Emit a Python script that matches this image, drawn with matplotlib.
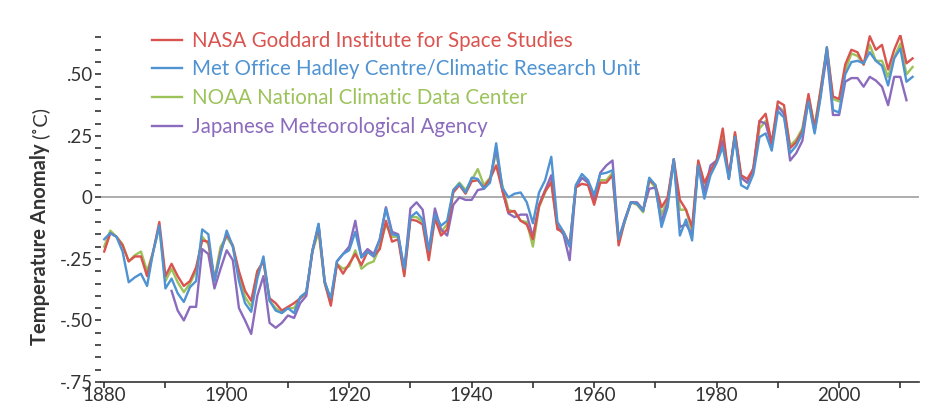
import matplotlib
matplotlib.use("Agg")
import matplotlib.pyplot as plt
from matplotlib.ticker import MultipleLocator, FixedLocator

plt.rcParams['font.family'] = ['Lato', 'DejaVu Sans']

years = list(range(1880, 2013))
jma_years = list(range(1891, 2012))

# NASA GISS
nasa = [-0.22, -0.145, -0.16, -0.195, -0.26, -0.24, -0.24, -0.32, -0.22, -0.10,
        -0.32, -0.27, -0.32, -0.36, -0.34, -0.285, -0.175, -0.18, -0.34, -0.22,
        -0.15, -0.195, -0.30, -0.38, -0.42, -0.30, -0.26, -0.41, -0.43, -0.46,
        -0.445, -0.43, -0.41, -0.385, -0.215, -0.12, -0.345, -0.44, -0.27, -0.31,
        -0.27, -0.23, -0.275, -0.22, -0.24, -0.21, -0.095, -0.18, -0.17, -0.32,
        -0.09, -0.095, -0.11, -0.255, -0.085, -0.155, -0.13, 0.02, 0.05, 0.015,
        0.065, 0.07, 0.04, 0.075, 0.13, 0.03, -0.06, -0.055, -0.095, -0.11,
        -0.17, -0.035, 0.025, 0.06, -0.13, -0.14, -0.19, 0.04, 0.055, 0.05,
        -0.03, 0.06, 0.06, 0.09, -0.195, -0.095, -0.02, -0.025, -0.055, 0.07,
        0.05, -0.04, 0.00, 0.155, -0.01, -0.05, -0.12, 0.15, 0.06, 0.11,
        0.15, 0.28, 0.075, 0.265, 0.09, 0.075, 0.115, 0.31, 0.34, 0.22,
        0.39, 0.375, 0.20, 0.225, 0.27, 0.42, 0.28, 0.44, 0.61, 0.41,
        0.40, 0.54, 0.60, 0.59, 0.54, 0.655, 0.60, 0.62, 0.52, 0.60,
        0.66, 0.545, 0.565]

# Met Office Hadley Centre / CRU
hadley = [-0.17, -0.145, -0.16, -0.22, -0.345, -0.325, -0.31, -0.36, -0.22, -0.115,
          -0.37, -0.33, -0.39, -0.425, -0.365, -0.34, -0.13, -0.15, -0.34, -0.23,
          -0.135, -0.20, -0.34, -0.43, -0.465, -0.33, -0.24, -0.42, -0.46, -0.47,
          -0.45, -0.47, -0.405, -0.385, -0.215, -0.107, -0.345, -0.41, -0.26, -0.23,
          -0.215, -0.14, -0.245, -0.22, -0.24, -0.17, -0.045, -0.15, -0.155, -0.29,
          -0.08, -0.06, -0.09, -0.215, -0.07, -0.115, -0.095, 0.03, 0.055, 0.02,
          0.08, 0.075, 0.035, 0.06, 0.22, 0.04, 0.00, 0.015, 0.02, -0.02,
          -0.105, 0.02, 0.07, 0.165, -0.10, -0.14, -0.20, 0.05, 0.095, 0.07,
          0.01, 0.095, 0.10, 0.11, -0.17, -0.095, -0.02, -0.025, -0.055, 0.08,
          0.05, -0.12, -0.04, 0.155, -0.155, -0.09, -0.175, 0.13, -0.005, 0.09,
          0.14, 0.205, 0.075, 0.245, 0.05, 0.035, 0.095, 0.245, 0.26, 0.19,
          0.35, 0.325, 0.18, 0.21, 0.26, 0.39, 0.26, 0.41, 0.61, 0.355,
          0.345, 0.50, 0.55, 0.555, 0.545, 0.59, 0.555, 0.535, 0.455, 0.565,
          0.605, 0.47, 0.49]

# NOAA NCDC
noaa = [-0.20, -0.135, -0.16, -0.19, -0.26, -0.235, -0.22, -0.30, -0.22, -0.12,
        -0.34, -0.29, -0.345, -0.385, -0.35, -0.30, -0.16, -0.19, -0.33, -0.20,
        -0.16, -0.20, -0.32, -0.405, -0.445, -0.30, -0.26, -0.42, -0.45, -0.47,
        -0.45, -0.45, -0.41, -0.39, -0.22, -0.14, -0.35, -0.43, -0.27, -0.29,
        -0.28, -0.215, -0.29, -0.27, -0.26, -0.20, -0.11, -0.16, -0.16, -0.31,
        -0.08, -0.08, -0.10, -0.24, -0.08, -0.14, -0.11, 0.03, 0.06, 0.03,
        0.07, 0.115, 0.05, 0.08, 0.18, 0.05, -0.05, -0.06, -0.095, -0.10,
        -0.20, -0.04, 0.02, 0.07, -0.12, -0.15, -0.20, 0.04, 0.08, 0.06,
        -0.02, 0.07, 0.07, 0.10, -0.18, -0.10, -0.02, -0.03, -0.06, 0.07,
        0.04, -0.07, -0.01, 0.15, -0.05, -0.05, -0.14, 0.14, 0.04, 0.10,
        0.15, 0.26, 0.08, 0.26, 0.08, 0.06, 0.11, 0.28, 0.31, 0.22,
        0.37, 0.35, 0.21, 0.235, 0.28, 0.41, 0.29, 0.44, 0.60, 0.40,
        0.39, 0.515, 0.585, 0.575, 0.54, 0.62, 0.555, 0.555, 0.49, 0.57,
        0.625, 0.50, 0.53]

# Japanese Meteorological Agency
jma = [-0.38, -0.46, -0.50, -0.445, -0.445, -0.21, -0.23, -0.37, -0.29,
       -0.215, -0.255, -0.45, -0.50, -0.555, -0.40, -0.32, -0.51, -0.53, -0.51,
       -0.48, -0.49, -0.43, -0.40, -0.22, -0.11, -0.34, -0.42, -0.26, -0.23,
       -0.20, -0.095, -0.24, -0.21, -0.23, -0.17, -0.04, -0.14, -0.15, -0.30,
       -0.045, -0.02, -0.05, -0.22, -0.045, -0.13, -0.155, -0.03, 0.00, -0.01,
       -0.01, 0.03, 0.035, 0.07, 0.20, 0.03, -0.065, -0.08, -0.07, -0.07,
       -0.16, -0.03, 0.03, 0.09, -0.12, -0.15, -0.255, 0.04, 0.08, 0.06,
       -0.01, 0.10, 0.13, 0.15, -0.17, -0.09, -0.02, -0.02, -0.05, 0.035,
       0.04, -0.10, -0.02, 0.155, -0.12, -0.11, -0.15, 0.14, 0.02, 0.13,
       0.15, 0.23, 0.09, 0.25, 0.08, 0.06, 0.12, 0.31, 0.30, 0.21,
       0.37, 0.34, 0.15, 0.18, 0.23, 0.40, 0.27, 0.42, 0.58, 0.335,
       0.335, 0.47, 0.485, 0.485, 0.45, 0.49, 0.475, 0.45, 0.375, 0.49,
       0.49, 0.395]

labels = ["NASA Goddard Institute for Space Studies",
          "Met Office Hadley Centre/Climatic Research Unit",
          "NOAA National Climatic Data Center",
          "Japanese Meteorological Agency"]
colors = ["#d9534f", "#4f93d2", "#9cc35a", "#8b6bbd"]

fig = plt.figure(figsize=(9.28, 4.12), dpi=100)
ax = fig.add_axes([0.109, 0.073, 0.881, 0.842])

ax.axhline(0, color="#a0a0a0", lw=1.2, zorder=1)

h_nasa, = ax.plot(years, nasa, color=colors[0], lw=1.7, zorder=3)
h_noaa, = ax.plot(years, noaa, color=colors[2], lw=1.7, zorder=2)
h_jma, = ax.plot(jma_years, jma, color=colors[3], lw=1.7, zorder=2.5)
h_had, = ax.plot(years, hadley, color=colors[1], lw=1.7, zorder=4)

ax.set_xlim(1879.5, 2013)
ax.set_ylim(-0.75, 0.66)

for s in ["top", "right", "left"]:
    ax.spines[s].set_visible(False)
ax.spines["bottom"].set_color("#333333")
ax.spines["bottom"].set_linewidth(1.2)

ax.xaxis.set_major_locator(FixedLocator(range(1880, 2013, 20)))
ax.xaxis.set_minor_locator(FixedLocator(range(1890, 2013, 10)))
ax.set_xticklabels([str(y) for y in range(1880, 2013, 20)])

ax.yaxis.set_major_locator(FixedLocator([-0.75, -0.5, -0.25, 0, 0.25, 0.5]))
ax.yaxis.set_minor_locator(MultipleLocator(0.05))
ax.set_yticklabels(["-.75", "-.50", "-.25", "0", ".25", ".50"])

ax.tick_params(axis="both", which="both", colors="#333333", labelcolor="#333333",
               labelsize=13.5, length=4, width=1.2)
ax.tick_params(axis="y", which="both", pad=2)
ax.tick_params(axis="x", which="both", pad=0)

leg = ax.legend([h_nasa, h_had, h_noaa, h_jma], labels, loc="upper left",
                bbox_to_anchor=(0.062, 1.012), frameon=False, fontsize=14.8,
                borderpad=0, borderaxespad=0,
                handlelength=1.45, handletextpad=0.5, labelspacing=0.42,
                labelcolor=colors)

# y label: bold part plus units
fig.canvas.draw()
r = fig.canvas.get_renderer()
t1 = fig.text(0.043, 0.163, "Temperature Anomaly", rotation=90, fontsize=14.5,
              fontweight="bold", color="#333333", ha="center", va="bottom")
bb = t1.get_window_extent(renderer=r)
fig.text(0.043, (bb.y1 + 4) / fig.bbox.height, "(˚C)", rotation=90,
         fontsize=14.5, color="#333333", ha="center", va="bottom")

fig.savefig("out.png", dpi=100)
